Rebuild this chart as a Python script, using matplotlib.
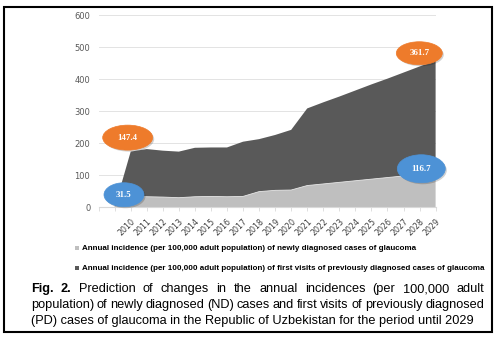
"""Glaucoma incidence forecast for Uzbekistan (Fig. 2) -> out.png"""

import matplotlib
matplotlib.use("Agg")
import matplotlib.pyplot as plt
import numpy as np
from matplotlib.patches import Ellipse, Rectangle
from matplotlib.transforms import IdentityTransform

# first slot is an empty category before 2010
YEARS = [""] + [str(y) for y in range(2010, 2030)]
ND = [0, 33, 33, 32, 30, 33, 34, 33, 34, 49, 53, 54, 68, 73, 78, 83, 88, 93, 98, 103, 108]
TOTAL = [0, 174, 182, 177, 174, 186, 187, 187, 205, 213, 226, 242, 309, 328, 346,
         365, 384, 402, 421, 440, 458]
PD = [t - n for t, n in zip(TOTAL, ND)]

LEGEND = [
    "Annual incidence (per 100,000 adult population) of newly diagnosed cases of glaucoma",
    "Annual incidence (per 100,000 adult population) of first visits of previously diagnosed cases of glaucoma",
]
# data labels: (text, series, category index)
BUBBLES = [("147.4", "PD", 1), ("31.5", "ND", 1), ("361.7", "PD", 20), ("116.7", "ND", 20)]

CAPTION = [
    "Fig. 2. Prediction of changes in the annual incidences (per 100,000 adult",
    "population) of newly diagnosed (ND) cases and first visits of previously diagnosed",
    "(PD) cases of glaucoma in the Republic of Uzbekistan for the period until 2029",
]

GREY = "#bfbfbf"
DARK = "#595959"
ORANGE = "#ee7b2b"
BLUE = "#4d92d6"
FONT = "Liberation Sans"


def justify(fig, renderer, words, x0, x1, y, fs, bold_n=0):
    texts = [fig.text(0, y / 342, w, fontsize=fs, family=FONT, va="center", ha="left",
                      fontweight="bold" if i < bold_n else "normal")
             for i, w in enumerate(words)]
    widths = [t.get_window_extent(renderer).width for t in texts]
    gap = (x1 - x0 - sum(widths)) / (len(words) - 1)
    x = x0
    for t, w in zip(texts, widths):
        t.set_x(x / 500)
        x += w + gap


def main():
    fig = plt.figure(figsize=(5, 3.42), dpi=100)
    ax = fig.add_axes([98.6 / 500, 1 - 207.3 / 342, 337 / 500, 192 / 342])
    x = np.arange(len(YEARS))

    ax.stackplot(x, ND, PD, colors=[GREY, DARK], linewidth=0)
    ax.plot(x, ND, color="#e4e4e4", lw=0.6)
    ax.set_xlim(-1, len(YEARS) - 1)
    ax.set_ylim(0, 600)
    ax.set_yticks(range(0, 601, 100))
    ax.set_xticks(np.arange(-1, len(YEARS)))
    ax.set_xticklabels([""] + YEARS, rotation=45, ha="right", va="top",
                       rotation_mode="anchor", fontsize=5.7, color="#404040")
    ax.tick_params(axis="x", length=3, width=0.6, color="#d9d9d9", pad=4)
    ax.tick_params(axis="y", length=0, pad=6, labelsize=6, labelcolor="#595959")
    ax.grid(axis="y", color="#e3e3e3", lw=0.7)
    ax.set_axisbelow(True)
    for s in ("top", "right", "left"):
        ax.spines[s].set_visible(False)
    ax.spines["bottom"].set_color("#d9d9d9")

    # bubble data labels, offsets in pixels from the data point
    offsets = {1: {"PD": (-3, 14, 50, 25), "ND": (-6.7, 2, 40, 24)},
               20: {"PD": (-16.3, 7.5, 46, 23), "ND": (-14.3, 4, 48, 28)}}
    tops = {"PD": TOTAL, "ND": ND}
    for text, series, i in BUBBLES:
        px, py = ax.transData.transform((x[i], tops[series][i]))
        dx, dy, w, h = offsets[i][series]
        cx, cy = px + dx, py + dy
        color = ORANGE if series == "PD" else BLUE
        fig.patches.append(Ellipse((cx + 1.5, cy - 1.5), w, h, transform=IdentityTransform(),
                                   facecolor="#000000", alpha=0.18, lw=0))
        fig.patches.append(Ellipse((cx, cy), w, h, transform=IdentityTransform(),
                                   facecolor=color, edgecolor=color, lw=0.5))
        fig.text(cx / 500, cy / 342, text, ha="center", va="center", color="white",
                 fontsize=6.5, fontweight="bold", family="Liberation Serif")

    # legend
    for k, (label, c) in enumerate(zip(LEGEND, [GREY, DARK])):
        yy = 342 - (248.3 + 20 * k)
        fig.patches.append(Rectangle((74.5, yy - 2), 4, 4, transform=IdentityTransform(),
                                     facecolor=c, lw=0))
        fig.text(82 / 500, yy / 342, label, fontsize=5.8, fontweight="bold",
                 family=FONT, va="center", ha="left")

    renderer = fig.canvas.get_renderer()
    for k, line in enumerate(CAPTION):
        yy = 342 - (289 + 16 * k)
        if k < 2:
            justify(fig, renderer, line.split(" "), 30.7, 484, yy, 9.2,
                    bold_n=2 if k == 0 else 0)
        else:
            fig.text(30.7 / 500, yy / 342, line, fontsize=9.2, family=FONT,
                     va="center", ha="left")

    fig.patches.append(Rectangle((4, 10), 488, 325, transform=IdentityTransform(),
                                 fill=False, edgecolor="black", lw=1.5))
    fig.savefig("out.png", dpi=100)


if __name__ == "__main__":
    main()
